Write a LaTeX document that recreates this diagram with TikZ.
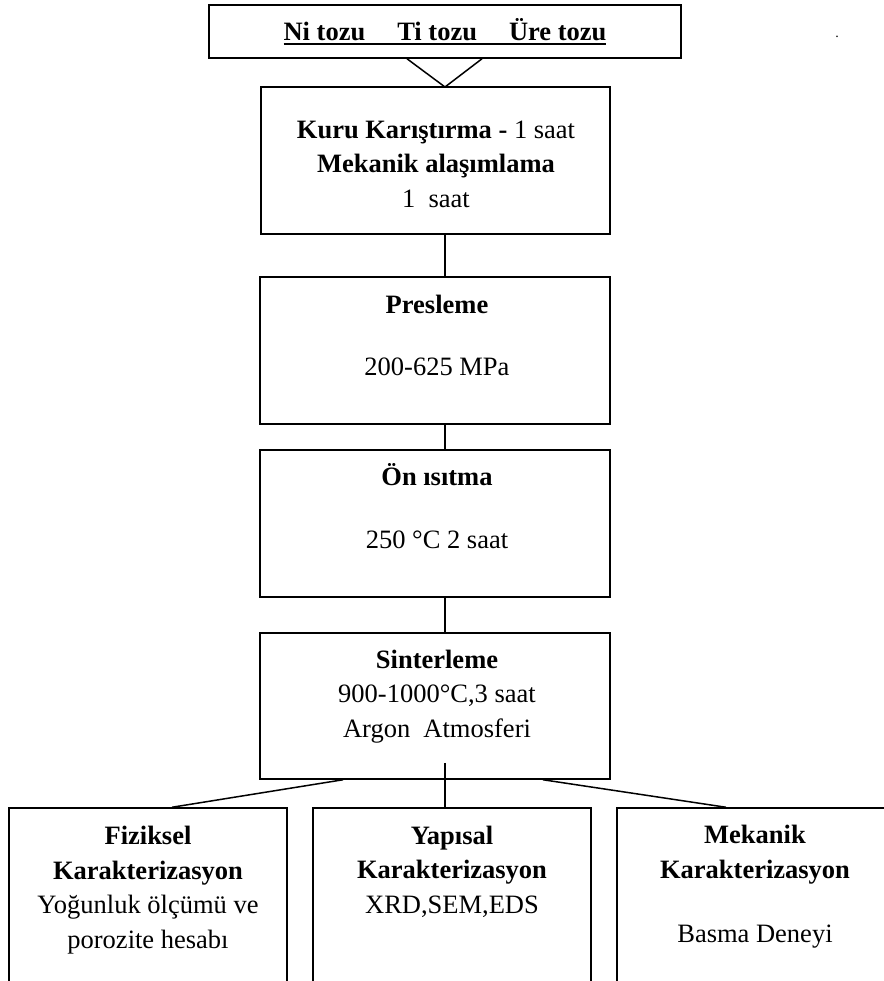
\documentclass[tikz,border=0pt]{standalone}
\usepackage{fontspec}
\setmainfont{Liberation Serif}
\usetikzlibrary{positioning, calc}
\newcommand{\altcizgi}[1]{\setbox0\hbox{#1}\rlap{\rule[-2pt]{\wd0}{1pt}}\box0}

\begin{document}
\begin{tikzpicture}[
  x=0.5pt, y=-0.5pt,
  kutu/.style={draw, line width=0.75pt, inner sep=0pt, minimum width=175pt, minimum height=73.5pt},
  altkutu/.style={kutu, minimum width=139pt, minimum height=96pt},
  yazi/.style={align=center, anchor=base, inner sep=0pt, font=\fontsize{13.25}{17.25}\selectfont},
  hat/.style={line width=0.75pt}
]
\useasboundingbox (0,0) rectangle (884,981);

% kutular
\node[kutu, minimum width=236pt, minimum height=26.5pt, yazi, anchor=center] (tozlar) at (445,31.5)
  {\altcizgi{\textbf{Ni tozu\hspace{16pt}Ti tozu\hspace{16pt}Üre tozu}}};
\node[kutu, minimum width=174.5pt] (karistirma) at (435.5,160.5) {};
\node[kutu] (presleme) at (435,350.5) {};
\node[kutu] (onisitma) at (435,523.5) {};
\node[kutu, minimum height=73pt] (sinterleme) at (435,706) {};
\node[altkutu] (fiziksel) at (148,904) {};
\node[altkutu] (yapisal) at (452,904) {};
\node[altkutu] (mekanik) at (756,904) {};

% yazilar (base = son satir)
\node[yazi] (karistirmaT) at (436,207) {\textbf{Kuru Karıştırma -} 1 saat\\\textbf{Mekanik alaşımlama}\\1\ \ saat};
\node[yazi] (preslemeT) at (437,375) {\textbf{Presleme}\\[13.75pt]200-625 MPa};
\node[yazi] (onisitmaT) at (437,548) {\textbf{Ön ısıtma}\\[14.25pt]250 °C 2 saat};
\node[yazi] (sinterlemeT) at (437,737) {\textbf{Sinterleme}\\900-1000°C,3 saat\\Argon\ \ Atmosferi};
\node[yazi] (fizikselT) at (148,948) {\textbf{Fiziksel}\\\textbf{Karakterizasyon}\\Yoğunluk ölçümü ve\\porozite hesabı};
\node[yazi] (yapisalT) at (452,913) {\textbf{Yapısal}\\\textbf{Karakterizasyon}\\XRD,SEM,EDS};
\node[yazi] (mekanikT) at (755,942) {\textbf{Mekanik}\\\textbf{Karakterizasyon}\\[14.75pt]Basma Deneyi};
\node[font=\scriptsize, inner sep=0pt] (nokta) at (837,37) {.};

% baglantilar
\coordinate (v) at (445,87);
\draw[hat] ([xshift=-19pt]tozlar.south) -- (v) -- ([xshift=18.5pt]tozlar.south);
\draw[hat] (v |- karistirma.south) -- (v |- presleme.north);
\draw[hat] (v |- presleme.south) -- (v |- onisitma.north);
\draw[hat] (v |- onisitma.south) -- (v |- sinterleme.north);
\draw[hat] ([yshift=8.5pt]v |- sinterleme.south) -- ([yshift=-1pt]v |- yapisal.north);
\draw[hat] ([xshift=-46pt]sinterleme.south) -- ([xshift=12pt]fiziksel.north);
\draw[hat] ([xshift=54pt]sinterleme.south) -- ([xshift=-15pt]mekanik.north);
\end{tikzpicture}
\end{document}
